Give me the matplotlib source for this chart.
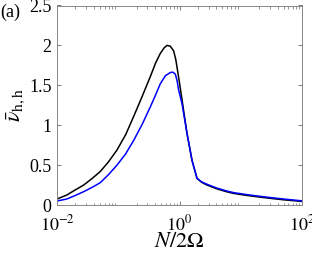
import matplotlib
matplotlib.use("Agg")
import matplotlib.pyplot as plt
import numpy as np
from matplotlib.ticker import LogLocator, NullFormatter

plt.rcParams['font.family'] = ['Liberation Serif', 'DejaVu Serif']
plt.rcParams['mathtext.fontset'] = 'stix'

# log10(N/2Omega) and values
black_logx = [-2.0, -1.84, -1.70, -1.565, -1.43, -1.293, -1.16, -1.02, -0.88, -0.748, -0.61,
              -0.476, -0.39, -0.313, -0.25, -0.204, -0.15, -0.095, -0.06, -0.041, 0.0,
              0.041, 0.122, 0.204, 0.286, 0.36, 0.449, 0.6, 0.75, 0.884, 1.1, 1.25, 1.43, 1.7, 2.0]
black_y = [0.075, 0.125, 0.19, 0.25, 0.33, 0.42, 0.54, 0.69, 0.88, 1.11, 1.36,
           1.61, 1.78, 1.90, 1.97, 2.00, 1.99, 1.93, 1.82, 1.73, 1.53,
           1.32, 0.90, 0.56, 0.334, 0.285, 0.25, 0.205, 0.17, 0.145, 0.12, 0.105, 0.088, 0.065, 0.045]

blue_logx = [-2.0, -1.84, -1.70, -1.565, -1.43, -1.293, -1.16, -1.02, -0.88, -0.748, -0.61,
             -0.476, -0.39, -0.313, -0.23, -0.15, -0.11, -0.068, -0.04, -0.014, 0.041,
             0.122, 0.204, 0.286, 0.36, 0.449, 0.6, 0.75, 0.884, 1.1, 1.25, 1.43, 1.7, 2.0]
blue_y = [0.05, 0.075, 0.12, 0.167, 0.22, 0.28, 0.38, 0.50, 0.64, 0.81, 1.01,
          1.23, 1.38, 1.52, 1.62, 1.66, 1.665, 1.64, 1.56, 1.44, 1.27,
          0.90, 0.56, 0.334, 0.29, 0.26, 0.215, 0.18, 0.155, 0.13, 0.115, 0.098, 0.075, 0.052]

xticks = [1e-2, 1e0, 1e2]
xticklabels = [r'$10^{-2}$', r'$10^{0}$', r'$10^{2}$']
yticks = [0, 0.5, 1, 1.5, 2, 2.5]
yticklabels = ['0', '0.5', '1', '1.5', '2', '2.5']

fig = plt.figure(figsize=(3.12, 2.56), dpi=100)
ax = fig.add_axes([57/312, 1-205/256, (302-57)/312, (205-5.5)/256])

ax.plot(10**np.array(black_logx), black_y, color='black', lw=1.1)
ax.plot(10**np.array(blue_logx), blue_y, color='#0000ff', lw=1.1)

ax.set_xscale('log')
ax.set_xlim(1e-2, 1e2)
ax.set_ylim(0, 2.5)
ax.set_xticks(xticks)
ax.set_xticklabels(xticklabels)
ax.xaxis.set_minor_locator(LogLocator(base=10, subs=np.arange(2, 10) * 1.0, numticks=20))
ax.xaxis.set_minor_formatter(NullFormatter())
ax.set_yticks(yticks)
ax.set_yticklabels(yticklabels)

ax.tick_params(which='both', direction='in', top=True, right=True,
               color='#666666')
ax.tick_params(axis='y', labelsize=13, pad=4)
ax.tick_params(axis='x', labelsize=13, pad=7)
ax.tick_params(which='major', length=3, width=0.6)
ax.tick_params(which='minor', length=1.8, width=0.5)
for s in ax.spines.values():
    s.set_color('#888888')
    s.set_linewidth(0.7)

ax.set_xlabel(r'$N/2\Omega$', fontsize=16, labelpad=-1)
ax.set_ylabel(r'$\bar{\nu}_{\rm h,h}$', fontsize=16, labelpad=1)

fig.text(0.5/312, 1-17/256, '(a)', fontsize=13)

fig.savefig('out.png', dpi=100)
